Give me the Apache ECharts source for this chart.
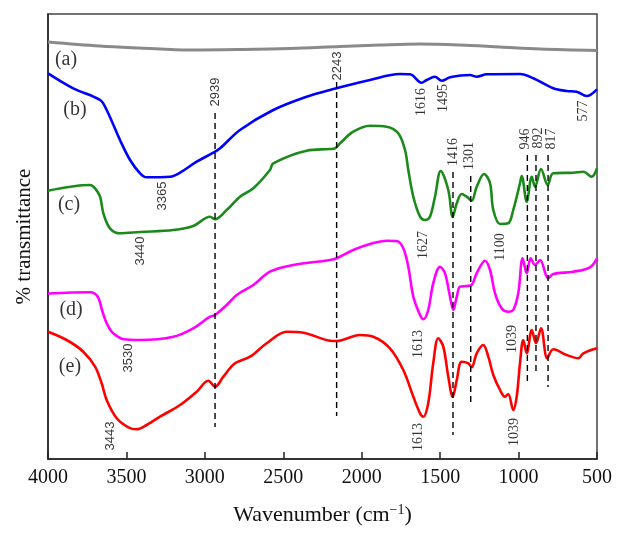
<!DOCTYPE html>
<html><head><meta charset="utf-8">
<script src="https://cdn.jsdelivr.net/npm/echarts@6/dist/echarts.min.js"></script>
<style>html,body{margin:0;padding:0;background:#fff}#c{width:625px;height:534px}</style>
</head><body><div id="c"></div>
<script>
// x ticks (wavenumber, cm^-1)
const xTicks = [4000, 3500, 3000, 2500, 2000, 1500, 1000, 500];

// curves: [wavenumber, relative transmittance (arbitrary offset units)]
const curveA = [[4000,417],[3670,413],[3413,411],[3095,409],[2776,409.5],[2457,410.5],[2139,412.5],[1884,414],[1629,415],[1373,414],[1118,412],[863,410],[500,408.5]];

const curveB = [[4000,385.7],[3839,370.7],[3668,359],[3626,349],[3541,319],[3477,299],[3413,285.7],[3371,281.7],[3222,282.3],[3158,286.3],[3052,297.3],[2946,306.3],[2903,310.7],[2776,329],[2564,349],[2351,362.3],[2202,369],[2160,370.7],[1947,379],[1756,385],[1692,384.7],[1618,376.3],[1586,379],[1533,382.3],[1490,378.3],[1437,381.7],[1310,384],[1267,382.3],[1203,384.7],[991,385],[906,380.7],[779,370.7],[693,368],[630,367.3],[566,363],[500,369.7]];

const curveC = [[4000,268.3],[3732,274],[3700,270.7],[3668,262.3],[3647,245.7],[3605,230.7],[3541,225.7],[3413,227],[3201,229],[3074,233],[2967,242.3],[2935,239.7],[2861,249],[2776,262.3],[2691,270.7],[2585,289],[2564,295.7],[2351,308.3],[2202,310],[2170,310.7],[2138,315.7],[2054,327.3],[1947,333.3],[1841,332.3],[1767,325.7],[1724,309],[1703,289],[1671,262.3],[1628,242.3],[1597,239],[1565,242.3],[1533,262.3],[1496,288],[1448,269],[1420,242.3],[1394,255.7],[1363,265],[1331,262.3],[1299,258.3],[1267,272.3],[1220,285],[1182,275.7],[1161,249],[1118,235],[1066,235.7],[1034,249],[991,275.7],[980,283],[948,257.3],[916,282.3],[895,272.3],[857,290],[814,274],[779,285.7],[651,286.3],[587,287.3],[534,282.3],[500,290.7]];

const curveD = [[4000,165.5],[3732,166.8],[3684,162.5],[3653,147.5],[3626,135.7],[3594,127.3],[3560,123],[3520,119.7],[3413,119],[3201,122.3],[3074,130.7],[2967,142.3],[2935,144],[2861,154],[2797,164],[2691,174],[2585,187.3],[2436,194],[2202,199],[2160,200.7],[2054,209],[1947,215],[1841,218.3],[1777,218],[1735,210.7],[1703,192.3],[1671,162.3],[1628,144],[1607,139.7],[1576,149],[1544,175.7],[1501,192.3],[1469,185.7],[1437,162.3],[1416,149],[1394,162.3],[1373,172.3],[1331,173],[1299,174],[1267,185.7],[1214,198.3],[1182,189],[1150,165.7],[1108,150.7],[1066,147.3],[1034,149],[1002,165.7],[974,200.7],[948,185.7],[923,200.7],[895,194],[863,199],[811,180.7],[779,185],[651,187.3],[545,191.7],[500,200.7]];

const curveE = [[4000,127.3],[3881,119],[3775,107.3],[3700,92.3],[3658,75.7],[3626,59],[3562,40.7],[3488,31.7],[3434,29.7],[3371,34],[3286,42.3],[3158,54],[3052,67.3],[2978,78.3],[2935,72.3],[2882,82.3],[2808,95.7],[2712,102.3],[2606,115.7],[2478,127.3],[2372,126.3],[2202,118.3],[2160,118],[2011,124],[1926,122.3],[1820,110.7],[1735,89],[1671,62.3],[1628,45.7],[1607,42.3],[1576,55.7],[1544,95.7],[1512,120.7],[1480,112.3],[1448,82.3],[1420,62.3],[1394,79],[1363,97.3],[1320,95.7],[1299,91.7],[1267,105.7],[1225,114],[1193,102.3],[1161,84],[1118,69],[1087,62.3],[1066,65],[1034,49],[1012,62.3],[991,95.7],[970,119],[948,105.7],[916,129],[889,115.7],[857,130.7],[817,100.7],[779,109.7],[693,104],[619,100.7],[587,105.7],[500,110.7]];

const curveNames = ['(a)', '(b)', '(c)', '(d)', '(e)'];
const curveNamePos = [[3885,399],[3828,349],[3866,254],[3853,149],[3860,92]];

// dashed guides: [wavenumber, top, bottom]
const guides = [[2935,346,32],[2160,377,43],[1418,287,24],[1305,283,56],[944,304,75],[889,304,86],[812,304,72]];

// peak annotations: [text, wavenumber, level]
const sansLabels = [['2939',2935,367],['2243',2158,393],['3365',3273,263],['3440',3413,208],['3530',3490,101],['3443',3605,23]];
const serifLabels = [['1616',1622,357],['1495',1482,361],['577',589,348],['1416',1418,307],['1301',1316,303],['946',959,320],['892',876,321],['817',793,320],['1627',1609,214],['1100',1118,212],['1613',1641,115],['1039',1042,120],['1613',1641,22],['1039',1029,27]];

const colors = ['#8a8a8a', '#0000ff', '#1b8a1b', '#ff00ff', '#ff0000'];
const curves = [curveA, curveB, curveC, curveD, curveE];

const series = [];
curves.forEach((d, i) => {
  series.push({
    type: 'line', data: d, showSymbol: false, smooth: 0.35, silent: true, z: 3,
    lineStyle: { color: colors[i], width: i === 0 ? 3 : 2.6 }
  });
});
guides.forEach(g => {
  series.push({
    type: 'line', data: [[g[0], g[1]], [g[0], g[2]]], showSymbol: false, silent: true, z: 4,
    lineStyle: { color: '#000', width: 1.4, type: [6, 4] }
  });
});
function labelSeries(arr, family, size) {
  return {
    type: 'scatter', symbolSize: 0, silent: true, z: 6,
    data: arr.map(a => [a[1], a[2], a[0]]),
    label: { show: true, position: 'inside', rotate: 90, formatter: p => p.value[2],
      fontFamily: family, fontSize: size, color: '#000' }
  };
}
series.push(labelSeries(sansLabels, 'Liberation Sans', 13));
series.push(labelSeries(serifLabels, 'Liberation Serif', 14));
series.push({
  type: 'scatter', symbolSize: 0, silent: true, z: 6,
  data: curveNamePos.map((p, i) => [p[0], p[1], curveNames[i]]),
  label: { show: true, position: 'inside', formatter: p => p.value[2],
    fontFamily: 'Liberation Serif', fontSize: 20, color: '#000' }
});

const chart = echarts.init(document.getElementById('c'), null, { renderer: 'canvas' });
chart.setOption({
  animation: false,
  backgroundColor: '#fff',
  grid: { left: 48, right: 28, top: 14, bottom: 75, show: true, borderColor: '#444', borderWidth: 1.5 },
  xAxis: {
    type: 'value', min: 500, max: 4000, interval: 500, inverse: true,
    axisLine: { show: true, lineStyle: { color: '#222', width: 1.5 } },
    axisTick: { show: true, inside: true, length: 7, lineStyle: { color: '#222', width: 1.5 } },
    splitLine: { show: false },
    axisLabel: { fontFamily: 'Liberation Serif', fontSize: 20, color: '#111', margin: 9,
      formatter: v => xTicks.includes(v) ? String(v) : '' },
    name: '{a|Wavenumber (cm}{s|−1}{a|)}', nameLocation: 'middle', nameGap: 44,
    nameTextStyle: { rich: {
      a: { fontFamily: 'Liberation Serif', fontSize: 22, color: '#111' },
      s: { fontFamily: 'Liberation Serif', fontSize: 14, color: '#111', verticalAlign: 'top', padding: [0, 0, 10, 0] }
    } }
  },
  yAxis: {
    type: 'value', min: 0, max: 445,
    axisLine: { show: true, lineStyle: { color: '#222', width: 1.5 } },
    axisTick: { show: false }, axisLabel: { show: false }, splitLine: { show: false },
    name: '% transmittance', nameLocation: 'middle', nameGap: 13,
    nameTextStyle: { fontFamily: 'Liberation Serif', fontSize: 21, color: '#111' }
  },
  series: series
});
</script>
</body></html>
